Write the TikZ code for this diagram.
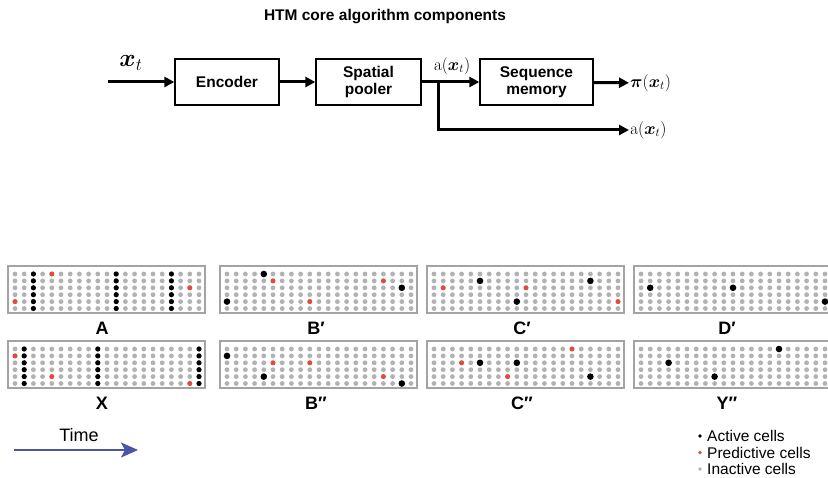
\documentclass[tikz,border=0pt]{standalone}
\usepackage[no-math]{fontspec}
\usepackage{amsmath,bm}
\usetikzlibrary{arrows.meta}
\newfontfamily\lsans{Liberation Sans}
\definecolor{inact}{HTML}{B2B2B2}
\definecolor{predc}{HTML}{E8473B}
\definecolor{framec}{HTML}{A3A3A3}
\definecolor{timec}{HTML}{4A55AA}
\newcommand\htmgrid[2]{%
  \foreach \i in {0,...,20}{\foreach \j in {0,...,5}{%
    \fill[inact] ({#1+7+\i*9.2},{#2+8+\j*6.9}) circle[radius=2.4pt];}}%
  \draw[framec,line width=2pt] (#1,#2) rectangle ++(197,47);}
\newcommand\htmcols[3]{%
  \foreach \c in {#3}{\foreach \j in {0,...,5}{%
    \fill[black] ({#1+7+\c*9.2},{#2+8+\j*6.9}) circle[radius=2.6pt];}}}
\newcommand\htmdots[5]{%
  \foreach \c/\r in {#5}{%
    \fill[#3] ({#1+7+\c*9.2},{#2+8+\r*6.9}) circle[radius=#4];}}
\begin{document}
\begin{tikzpicture}[x=1pt,y=-1pt,
  box/.style={draw,line width=1.3pt,align=center,inner sep=0pt,minimum height=46pt,
    font=\lsans\bfseries\fontsize{15.5}{17}\selectfont},
  arr/.style={line width=3pt,-{Triangle[length=10pt,width=10pt]}},
  mlab/.style={inner sep=1pt,font=\fontsize{18.5}{18}\selectfont},
  plab/.style={font=\lsans\bfseries\fontsize{18}{18}\selectfont,inner sep=0pt},
  leg/.style={anchor=west,inner sep=0pt,font=\lsans\fontsize{15.5}{16}\selectfont}]
\useasboundingbox (0,0) rectangle (828,478);
\fill[white] (0,0) rectangle (828,478);
\clip (0,0) rectangle (828,478);
% title
\node[font=\lsans\bfseries\fontsize{15.5}{16}\selectfont] (title) at (385,17) {HTM core algorithm components};
% pipeline
\node[box,minimum width=104pt] (enc) at (227,82) {Encoder};
\node[box,minimum width=105pt] (sp) at (368.5,82) {Spatial\\pooler};
\node[box,minimum width=113pt] (sm) at (536.5,82) {Sequence\\memory};
\coordinate (in) at (108,82);
\node[font=\fontsize{24}{24}\selectfont,inner sep=0pt] (xt) at (131,63) {$\bm{x}_t$};
\draw[arr] (in) -- (enc);
\draw[arr] (enc) -- (sp);
\draw[arr] (sp) -- (sm);
\node[mlab,anchor=west] (pi) at (629,83) {$\bm{\pi}(\bm{x}_t)$};
\draw[arr] (sm) -- (pi);
\node[mlab] (a1) at (452,66) {$\mathrm{a}(\bm{x}_t)$};
\coordinate (br) at (438,80.5);
\node[mlab,anchor=west] (a2) at (629,130) {$\mathrm{a}(\bm{x}_t)$};
\draw[arr] (br) |- (a2);
% panels
\htmgrid{8}{266}\htmcols{8}{266}{2,11,17}\htmdots{8}{266}{predc}{2.5pt}{4/0,0/4,19/2}
\htmgrid{8}{341}\htmcols{8}{341}{1,9,20}\htmdots{8}{341}{predc}{2.5pt}{0/1,4/4,19/5}
\htmgrid{220}{266}\htmdots{220}{266}{black}{3.3pt}{4/0,19/2,0/4}\htmdots{220}{266}{predc}{2.5pt}{5/1,17/1,9/4}
\htmgrid{220}{341}\htmdots{220}{341}{black}{3.3pt}{0/1,4/4,19/5}\htmdots{220}{341}{predc}{2.5pt}{5/2,9/2,17/4}
\htmgrid{427}{266}\htmdots{427}{266}{black}{3.3pt}{5/1,9/4,17/1}\htmdots{427}{266}{predc}{2.5pt}{1/2,10/2,20/4}
\htmgrid{427}{341}\htmdots{427}{341}{black}{3.3pt}{5/2,9/2,17/4}\htmdots{427}{341}{predc}{2.5pt}{3/2,8/4,15/0}
\htmgrid{634}{266}\htmdots{634}{266}{black}{3.3pt}{1/2,10/2,20/4}
\htmgrid{634}{341}\htmdots{634}{341}{black}{3.3pt}{3/2,8/4,15/0}
% panel labels
\node[plab] (lA) at (102,328) {A};
\node[plab] (lB1) at (316,328) {B′};
\node[plab] (lC1) at (522,328) {C′};
\node[plab] (lD1) at (727,328) {D′};
\node[plab] (lX) at (102,403) {X};
\node[plab] (lB2) at (316,403) {B″};
\node[plab] (lC2) at (522,403) {C″};
\node[plab] (lY2) at (727,403) {Y″};
% time arrow
\node[font=\lsans\fontsize{18}{18}\selectfont,inner sep=0pt] (time) at (79,435) {Time};
\coordinate (t0) at (14,450);
\coordinate (t1) at (138,450);
\draw[timec,line width=2pt,-{Stealth[length=17pt,width=15pt,inset=4pt]}] (t0) -- (t1);
% legend
\fill[black] (700,436) circle[radius=1.9pt];
\fill[predc] (700,452.5) circle[radius=1.9pt];
\fill[inact] (700,469) circle[radius=1.9pt];
\node[leg] (l1) at (707,436) {Active cells};
\node[leg] (l2) at (707,452.5) {Predictive cells};
\node[leg] (l3) at (707,469) {Inactive cells};
\end{tikzpicture}
\end{document}
